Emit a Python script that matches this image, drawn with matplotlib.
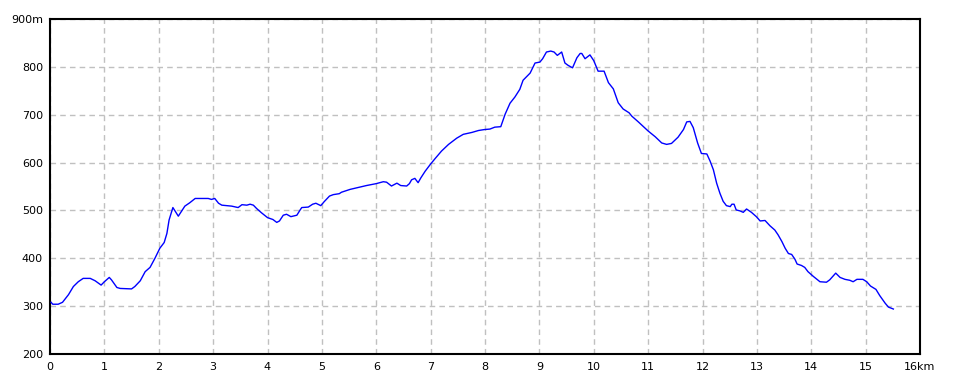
import matplotlib
matplotlib.use('Agg')
import matplotlib.pyplot as plt

# Профиль высот: расстояние (км) и высота (м)
dist_km = [0.02, 0.05, 0.15, 0.23, 0.34, 0.43, 0.52, 0.61, 0.74, 0.83, 0.94, 1.0, 1.09, 1.13,
           1.23, 1.29, 1.50, 1.56, 1.66, 1.75, 1.84, 1.93, 2.02, 2.10, 2.15, 2.19, 2.26, 2.36,
           2.48, 2.57, 2.67, 2.91, 2.97, 3.03, 3.10, 3.16, 3.34, 3.46, 3.53, 3.62, 3.68, 3.74,
           3.80, 3.89, 4.0, 4.10, 4.17, 4.22, 4.29, 4.35, 4.43, 4.54, 4.60, 4.63, 4.75, 4.83,
           4.89, 4.98, 5.04, 5.14, 5.21, 5.32, 5.36, 5.52, 5.67, 5.82, 6.0, 6.13, 6.19, 6.28,
           6.38, 6.45, 6.56, 6.61, 6.65, 6.71, 6.77, 6.82, 6.90, 7.0, 7.08, 7.20, 7.33, 7.48,
           7.60, 7.76, 7.88, 7.99, 8.09, 8.18, 8.29, 8.37, 8.46, 8.55, 8.64, 8.70, 8.83, 8.92,
           9.01, 9.06, 9.13, 9.21, 9.27, 9.33, 9.41, 9.47, 9.53, 9.61, 9.69, 9.75, 9.78, 9.84,
           9.93, 10.0, 10.08, 10.19, 10.27, 10.36, 10.45, 10.54, 10.65, 10.70, 10.82, 11.0,
           11.13, 11.25, 11.34, 11.43, 11.55, 11.65, 11.71, 11.77, 11.83, 11.91, 11.98, 12.08,
           12.14, 12.20, 12.26, 12.32, 12.38, 12.44, 12.51, 12.54, 12.58, 12.62, 12.69, 12.75,
           12.81, 12.90, 12.99, 13.06, 13.15, 13.24, 13.33, 13.39, 13.46, 13.52, 13.58, 13.64,
           13.70, 13.74, 13.82, 13.88, 13.94, 14.04, 14.16, 14.28, 14.34, 14.45, 14.53, 14.62,
           14.71, 14.77, 14.84, 14.95, 15.02, 15.09, 15.19, 15.26, 15.36, 15.42, 15.51]
elev_m = [308, 304, 304, 308, 324, 341, 351, 358, 358, 353, 344, 351, 360, 355,
          339, 337, 336, 341, 353, 372, 381, 400, 421, 433, 452, 480, 506, 488,
          509, 516, 525, 525, 523, 525, 515, 511, 509, 506, 512, 511, 513, 511,
          504, 495, 485, 481, 475, 478, 490, 492, 487, 490, 501, 506, 507, 513,
          515, 510, 518, 530, 533, 535, 538, 544, 548, 552, 556, 560, 559, 551,
          557, 552, 551, 556, 564, 567, 558, 568, 582, 597, 608, 624, 638, 651,
          659, 663, 667, 669, 670, 674, 675, 701, 724, 737, 753, 772, 787, 808,
          810, 817, 831, 833, 831, 824, 831, 808, 803, 798, 819, 828, 828, 817,
          825, 813, 791, 791, 767, 754, 725, 712, 704, 697, 685, 666,
          654, 641, 638, 640, 653, 669, 685, 686, 673, 641, 619, 618,
          603, 585, 557, 536, 519, 510, 508, 513, 513, 501, 499, 496,
          503, 496, 487, 478, 479, 468, 459, 449, 435, 421, 410, 408,
          398, 388, 385, 381, 372, 362, 351, 350, 355, 369, 360, 356,
          354, 351, 356, 356, 351, 342, 335, 322, 306, 298, 294]

x_ticks = list(range(0, 17))
x_labels = [str(k) for k in range(0, 16)] + ['16km']
y_ticks = [200, 300, 400, 500, 600, 700, 800, 900]
y_labels = ['200', '300', '400', '500', '600', '700', '800', '900m']

fig = plt.figure(figsize=(9.6, 3.84), dpi=100)
ax = fig.add_axes([50 / 960, 30 / 384, 870 / 960, 335 / 384])

ax.plot(dist_km, elev_m, color='#0000ff', linewidth=1.0, zorder=3)

ax.set_xlim(0, 16)
ax.set_ylim(200, 900)
ax.set_xticks(x_ticks)
ax.set_xticklabels(x_labels)
ax.set_yticks(y_ticks)
ax.set_yticklabels(y_labels)

# Сетка пунктиром
ax.grid(True, color='#c0c0c0', linestyle=(0, (4, 3)), linewidth=1.0)
ax.set_axisbelow(True)

ax.tick_params(axis='both', length=0, labelsize=8, colors='black')
ax.tick_params(axis='x', pad=6)
ax.tick_params(axis='y', pad=5)

for spine in ax.spines.values():
    spine.set_linewidth(1.5)
    spine.set_color('black')

fig.savefig('out.png', dpi=100)
